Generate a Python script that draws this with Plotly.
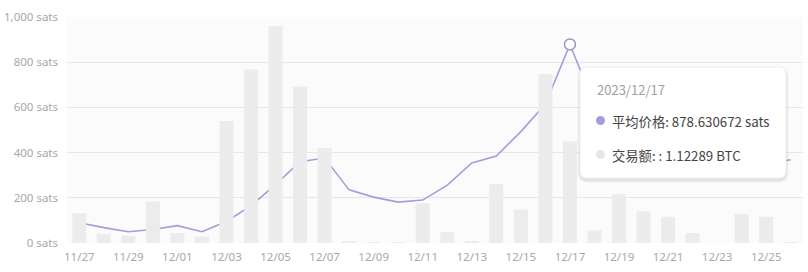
import plotly.graph_objects as go

dates = ["11/27", "11/28", "11/29", "11/30", "12/01", "12/02", "12/03", "12/04", "12/05", "12/06",
         "12/07", "12/08", "12/09", "12/10", "12/11", "12/12", "12/13", "12/14", "12/15", "12/16",
         "12/17", "12/18", "12/19", "12/20", "12/21", "12/22", "12/23", "12/24", "12/25", "12/26"]
avg_price_sats = [90, 68, 50, 60, 77, 50, 95, 165, 258, 360,
                  376, 235, 203, 181, 190, 256, 354, 385, 493, 615,
                  878.630672, 610, 530, 470, 430, 405, 385, 370, 350, 368]
volume_btc = [0.33, 0.10, 0.08, 0.46, 0.11, 0.07, 1.35, 1.92, 2.40, 1.73,
              1.05, 0.012, 0.006, 0.004, 0.44, 0.12, 0.02, 0.65, 0.37, 1.87,
              1.12289, 0.14, 0.54, 0.35, 0.29, 0.11, 0.0, 0.32, 0.29, 0.01]
tick_labels = dates[::2]
hover_index = 20
hover_date = "2023/12/17"

price_color = "#a99bdb"
bar_color = "#ececec"

fig = go.Figure()
fig.add_trace(go.Bar(x=dates, y=volume_btc, yaxis="y2", marker=dict(color=bar_color, line=dict(width=0)),
                     name="交易额", hoverinfo="skip"))
fig.add_trace(go.Scatter(x=dates, y=avg_price_sats, mode="lines", line=dict(color=price_color, width=1.6),
                         name="平均价格", hoverinfo="skip"))
fig.add_trace(go.Scatter(x=[dates[hover_index]], y=[avg_price_sats[hover_index]], mode="markers",
                         marker=dict(size=11, color="white", line=dict(color="#9b93c0", width=1.5)),
                         hoverinfo="skip", showlegend=False))

L, R, T, B = 67, 5, 17, 29
W, H = 808, 272
pw, ph = W - L - R, H - T - B

def px(x):
    return (x - L) / pw

def py(y):
    return (H - B - y) / ph

def rrect(x0, y0, x1, y1, r):
    return (f"M {px(x0 + r)} {py(y0)} L {px(x1 - r)} {py(y0)} "
            f"Q {px(x1)} {py(y0)} {px(x1)} {py(y0 + r)} L {px(x1)} {py(y1 - r)} "
            f"Q {px(x1)} {py(y1)} {px(x1 - r)} {py(y1)} L {px(x0 + r)} {py(y1)} "
            f"Q {px(x0)} {py(y1)} {px(x0)} {py(y1 - r)} L {px(x0)} {py(y0 + r)} "
            f"Q {px(x0)} {py(y0)} {px(x0 + r)} {py(y0)} Z")

shapes = []
for i, a in enumerate([0.025, 0.035, 0.045]):
    d = 3 - i
    shapes.append(dict(type="path", xref="paper", yref="paper", layer="above",
                       path=rrect(580 - d, 67 - d + 2, 786 + d, 178 + d + 2, 8 + d),
                       fillcolor=f"rgba(0,0,0,{a})", line=dict(width=0)))
shapes.append(dict(type="path", xref="paper", yref="paper", layer="above",
                   path=rrect(580, 67, 786, 178, 7), fillcolor="white", line=dict(color="#f0f0f0", width=1)))
shapes.append(dict(type="circle", xref="paper", yref="paper", layer="above",
                   x0=px(596), x1=px(605), y0=py(116), y1=py(125), fillcolor=price_color, line=dict(width=0)))
shapes.append(dict(type="circle", xref="paper", yref="paper", layer="above",
                   x0=px(596), x1=px(605), y0=py(150), y1=py(159), fillcolor="#e6e6e6", line=dict(width=0)))

font_cjk = "Noto Sans CJK SC, Noto Sans, sans-serif"
annotations = [
    dict(xref="paper", yref="paper", x=px(595), y=py(89), xanchor="left", yanchor="middle", showarrow=False,
         text=hover_date, font=dict(family=font_cjk, size=13, color="#a0a0a0")),
    dict(xref="paper", yref="paper", x=px(610), y=py(121), xanchor="left", yanchor="middle", showarrow=False,
         text=f"平均价格: {avg_price_sats[hover_index]:.6f} sats", font=dict(family=font_cjk, size=13.3, color="#444")),
    dict(xref="paper", yref="paper", x=px(610), y=py(155), xanchor="left", yanchor="middle", showarrow=False,
         text=f"交易额: : {volume_btc[hover_index]} BTC", font=dict(family=font_cjk, size=13.3, color="#444")),
]

fig.update_layout(
    width=W, height=H, margin=dict(l=L, r=R, t=T, b=B),
    paper_bgcolor="white", plot_bgcolor="#fbfbfb",
    showlegend=False, bargap=0.43,
    font=dict(family="Noto Sans, sans-serif", size=11.5, color="#a8a8a8"),
    xaxis=dict(type="category", tickvals=tick_labels, ticktext=tick_labels, showgrid=False,
               showline=False, ticks="", tickfont=dict(size=11.5, color="#a8a8a8"), fixedrange=True,
               ticklabelstandoff=5),
    yaxis=dict(range=[0, 1000], dtick=200, tickformat=",", ticksuffix=" sats", gridcolor="#e6e6ea",
               gridwidth=1, zeroline=False, showline=False, tickfont=dict(size=11.5, color="#a8a8a8"),
               ticklabelstandoff=8),
    yaxis2=dict(range=[0, 2.5], overlaying="y", side="right", showgrid=False, showticklabels=False,
                zeroline=False, showline=False),
    shapes=shapes, annotations=annotations,
)

fig.write_html("out.html")
